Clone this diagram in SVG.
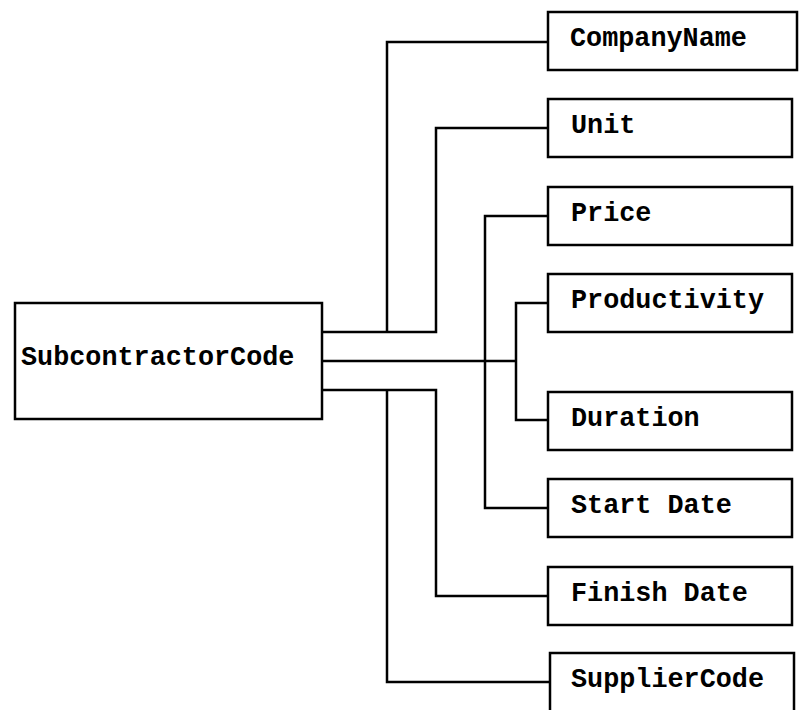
<svg xmlns="http://www.w3.org/2000/svg" width="799" height="710" viewBox="0 0 799 710">
<style>
.box{fill:#fff;stroke:#000;stroke-width:2.5}
.lbl{font-family:"Liberation Mono","DejaVu Sans Mono",monospace;font-size:26.8px;font-weight:bold;fill:#000}
.conn{fill:none;stroke:#000;stroke-width:2.5;stroke-linejoin:miter}
</style>
<rect width="799" height="710" fill="#fff"/>
<g id="connectors" class="conn">
<path d="M322,332 H436 V128 H548"/>
<path d="M387,332 V42 H548"/>
<path d="M322,361 H516"/>
<path d="M548,303 H516 V420 H548"/>
<path d="M548,216 H485 V508 H548"/>
<path d="M322,390 H436 V596 H548"/>
<path d="M387,390 V682 H550"/>
</g>
<g id="SubcontractorCode"><rect class="box" x="15" y="303" width="307" height="116"/><text class="lbl" x="21" y="365">SubcontractorCode</text></g>
<g id="CompanyName"><rect class="box" x="548" y="12" width="249" height="58"/><text class="lbl" x="570" y="46">CompanyName</text></g>
<g id="Unit"><rect class="box" x="548" y="99" width="244" height="58"/><text class="lbl" x="571" y="133">Unit</text></g>
<g id="Price"><rect class="box" x="548" y="187" width="244" height="58"/><text class="lbl" x="571" y="221">Price</text></g>
<g id="Productivity"><rect class="box" x="548" y="274" width="244" height="58"/><text class="lbl" x="571" y="308">Productivity</text></g>
<g id="Duration"><rect class="box" x="548" y="392" width="244" height="58"/><text class="lbl" x="571" y="426">Duration</text></g>
<g id="StartDate"><rect class="box" x="548" y="479" width="244" height="58"/><text class="lbl" x="571" y="513">Start Date</text></g>
<g id="FinishDate"><rect class="box" x="548" y="567" width="244" height="58"/><text class="lbl" x="571" y="601">Finish Date</text></g>
<g id="SupplierCode"><rect class="box" x="550" y="653" width="244" height="60"/><text class="lbl" x="571" y="687">SupplierCode</text></g>
</svg>
